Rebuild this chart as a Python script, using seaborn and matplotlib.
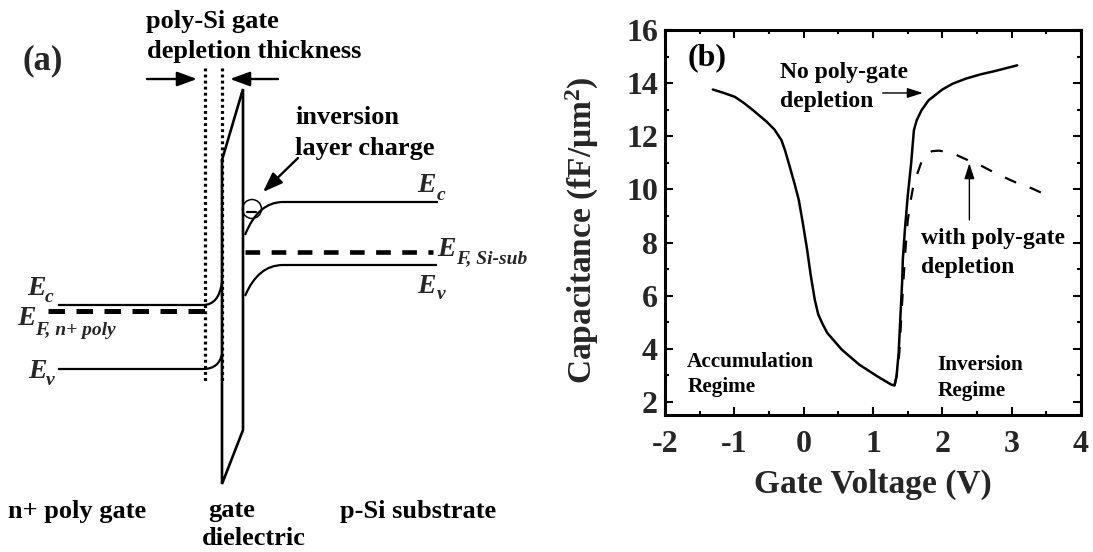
import matplotlib
matplotlib.use("Agg")
import matplotlib.pyplot as plt
import numpy as np
import pandas as pd
import seaborn as sns
from matplotlib.path import Path
from matplotlib.patches import PathPatch, Circle
from matplotlib.ticker import MultipleLocator

# ---------------- C-V data (panel b) ----------------
v_no_depl = [-1.31, -1.15, -0.99, -0.86, -0.73, -0.53, -0.42, -0.32, -0.27, -0.20, -0.13,
             -0.07, -0.01, 0.05, 0.10, 0.16, 0.21, 0.27, 0.34, 0.55, 0.80, 1.06, 1.26,
             1.31, 1.34, 1.37, 1.40, 1.42, 1.43, 1.46, 1.50, 1.55, 1.59, 1.63,
             1.70, 1.80, 2.00, 2.15, 2.34, 2.55, 2.75, 2.90, 3.08]
c_no_depl = [13.76, 13.63, 13.48, 13.25, 12.98, 12.54, 12.25, 11.85, 11.48, 10.85, 10.2,
             9.6, 8.7, 7.73, 6.8, 5.85, 5.3, 4.95, 4.6, 3.97, 3.41, 2.97, 2.66,
             2.62, 2.97, 3.86, 5.47, 6.5, 7.35, 8.48, 9.73, 10.98, 12.23, 12.6,
             12.98, 13.35, 13.76, 13.98, 14.17, 14.33, 14.45, 14.55, 14.67]

v_poly_depl = [1.31, 1.34, 1.38, 1.41, 1.44, 1.47, 1.50, 1.54, 1.58, 1.64, 1.70,
               1.77, 1.85, 1.95, 2.05, 2.2, 2.37, 2.57, 2.73, 2.91, 3.07, 3.29, 3.45]
c_poly_depl = [2.62, 2.97, 3.86, 5.3, 6.6, 7.8, 8.8, 9.54, 10.1, 10.6, 11.04,
               11.3, 11.44, 11.46, 11.42, 11.3, 11.1, 10.88, 10.66, 10.44, 10.25, 10.04, 9.85]

x_ticks = [-2, -1, 0, 1, 2, 3, 4]
y_ticks = [2, 4, 6, 8, 10, 12, 14, 16]

# ---------------- band diagram layout (panel a, canvas units) ----------------
poly_x = [58, 203]              # flat part of n+ poly bands
poly_ec_y, poly_ef_y, poly_ev_y = 305, 311, 369
sub_x = [283, 438]              # flat part of substrate bands
sub_ec_y, sub_ef_y, sub_ev_y = 202, 252, 265
depl_edge_x, ox_left_x, ox_right_x = 205, 222, 243
ox_cb_y = [160, 89]             # dielectric conduction band (left, right)
ox_vb_y = [484, 430]            # dielectric valence band (left, right)
dotted_y = [68, 383]

sns.set_style("ticks")
plt.rcParams["font.family"] = ["Liberation Serif", "DejaVu Serif"]
plt.rcParams["font.weight"] = "bold"
plt.rcParams["axes.unicode_minus"] = False
plt.rcParams["mathtext.fontset"] = "custom"
plt.rcParams["mathtext.rm"] = "Liberation Serif:bold"
plt.rcParams["mathtext.it"] = "Liberation Serif:italic:bold"
plt.rcParams["mathtext.bf"] = "Liberation Serif:bold"

W, H = 1093, 552
fig = plt.figure(figsize=(W / 100, H / 100), dpi=100)
fig.patch.set_facecolor("white")

# ================= panel (a): band diagram =================
axa = fig.add_axes([0, 0, 540 / W, 1])
axa.set_xlim(0, 540)
axa.set_ylim(H, 0)
axa.axis("off")

lw_band = 1.6
M, L, C3 = Path.MOVETO, Path.LINETO, Path.CURVE3

def band(points, codes, lw=lw_band):
    axa.add_patch(PathPatch(Path(points, codes), fill=False, lw=lw,
                            edgecolor="black", capstyle="butt", joinstyle="round"))

# n+ poly gate bands, bending up at the depletion edge
band([(poly_x[0], poly_ec_y), (poly_x[1], poly_ec_y), (219, poly_ec_y), (ox_left_x, 282)],
     [M, L, C3, C3])
band([(poly_x[0], poly_ev_y), (poly_x[1], poly_ev_y), (219, poly_ev_y), (ox_left_x, 354)],
     [M, L, C3, C3])
axa.plot([48, 208], [poly_ef_y, poly_ef_y], color="black", lw=3.6,
         dashes=(3.3, 2.3), solid_capstyle="butt", dash_capstyle="butt")

# substrate bands, bending down at the interface
band([(245, 235), (258, sub_ec_y), (sub_x[0], sub_ec_y), (sub_x[1], sub_ec_y)],
     [M, C3, C3, L])
band([(245, 296), (258, sub_ev_y), (sub_x[0], sub_ev_y), (sub_x[1] - 1, sub_ev_y)],
     [M, C3, C3, L])
axa.plot([245, 433], [sub_ef_y, sub_ef_y], color="black", lw=3.3,
         dashes=(3.2, 2.5), dash_capstyle="butt")

# gate dielectric
axa.plot([ox_left_x, ox_right_x, ox_right_x, ox_left_x, ox_left_x],
         [ox_cb_y[0], ox_cb_y[1], ox_vb_y[1], ox_vb_y[0], ox_cb_y[0]],
         color="black", lw=1.9, solid_joinstyle="miter")

# depletion-thickness markers
for xd in (depl_edge_x, ox_left_x):
    axa.plot([xd, xd], dotted_y, color="black", lw=2.3, dashes=(0.9, 1.0),
             dash_capstyle="butt")

arrow_big = dict(arrowstyle="-|>,head_length=0.6,head_width=0.22", lw=1.7,
                 color="black", mutation_scale=20, shrinkA=0, shrinkB=0)
axa.annotate("", xy=(197, 79), xytext=(147, 79), arrowprops=arrow_big)
axa.annotate("", xy=(230, 79), xytext=(278, 79), arrowprops=arrow_big)
axa.annotate("", xy=(263, 192), xytext=(298, 158), arrowprops=arrow_big)

# inversion electron
axa.add_patch(Circle((252, 209), 9.5, fill=False, lw=1.1, edgecolor="black"))
axa.plot([247, 256], [212, 212], color="black", lw=1.6)

txt = dict(fontsize=19, fontweight="bold", va="baseline", ha="left", color="black")
axa.text(23, 69, "(a)", fontsize=25, fontweight="bold", va="baseline", ha="left")
axa.text(146, 28, "poly-Si gate", **txt)
axa.text(147, 58, "depletion thickness", **txt)
axa.text(295, 124, "inversion", **txt)
axa.text(295, 155, "layer charge", **txt)
axa.text(8, 518, "n+ poly gate", **txt)
axa.text(208, 517, "gate", **txt)
axa.text(202, 545, "dielectric", **txt)
axa.text(340, 518, "p-Si substrate", **txt)

e_main = dict(fontsize=20, fontweight="bold", style="italic", va="baseline", ha="left")
e_sub = dict(fontsize=14, fontweight="bold", style="italic", va="baseline", ha="left")
band_labels = [
    (417, 192, 437, 200, "c"),
    (437, 256, 456, 263, "F, Si-sub"),
    (417, 293, 437, 299, "v"),
    (27, 295, 45, 302, "c"),
    (17, 325, 35, 335, "F, n+ poly"),
    (28, 378, 46, 385, "v"),
]
for xe, ye, xs, ys, sub in band_labels:
    axa.text(xe, ye, "E", **e_main)
    axa.text(xs, ys, sub, **e_sub)

# ================= panel (b): C-V curves =================
left, right, top, bottom = 665, 1081, 30, 414.5
axb = fig.add_axes([left / W, (H - bottom) / H, (right - left) / W, (bottom - top) / H])

df_no = pd.DataFrame({"V": v_no_depl, "C": c_no_depl})
df_pd = pd.DataFrame({"V": v_poly_depl, "C": c_poly_depl})
sns.lineplot(data=df_no, x="V", y="C", ax=axb, color="black", lw=1.8,
             sort=False, estimator=None)
sns.lineplot(data=df_pd, x="V", y="C", ax=axb, color="black", lw=1.6,
             sort=False, estimator=None)
axb.lines[-1].set_dashes((5.5, 6.5))
for ln in axb.lines:
    ln.set_solid_joinstyle("round")

axb.set_xlim(-2, 4)
axb.set_ylim(1.53, 16)
axb.set_xticks(x_ticks)
axb.set_yticks(y_ticks)
axb.xaxis.set_minor_locator(MultipleLocator(0.5))
axb.yaxis.set_minor_locator(MultipleLocator(1))
axb.tick_params(which="both", direction="in", top=True, right=True,
                width=1.5, color="black")
axb.tick_params(which="major", length=5.8, labelsize=23)
axb.tick_params(which="minor", length=2.8)
axb.tick_params(axis="x", which="major", pad=11)
axb.tick_params(axis="y", which="major", pad=5)
for s in axb.spines.values():
    s.set_linewidth(2.2)
    s.set_color("black")

axb.set_xlabel("Gate Voltage (V)", fontsize=24, fontweight="bold", labelpad=7)
axb.set_ylabel("Capacitance (fF/μm$^2$)", fontsize=24, fontweight="bold")
axb.yaxis.set_label_coords(-0.155, 0.48)

ann = dict(fontweight="bold", va="baseline", ha="left", color="black")
axb.text(-1.68, 14.69, "(b)", fontsize=23, **ann)
axb.text(-0.34, 14.18, "No poly-gate", fontsize=17, **ann)
axb.text(-0.34, 13.10, "depletion", fontsize=17, **ann)
axb.text(1.69, 7.95, "with poly-gate", fontsize=17, **ann)
axb.text(1.69, 6.85, "depletion", fontsize=17, **ann)
axb.text(-1.68, 3.32, "Accumulation", fontsize=15.3, **ann)
axb.text(-1.68, 2.37, "Regime", fontsize=15.3, **ann)
axb.text(1.93, 3.22, "Inversion", fontsize=15.3, **ann)
axb.text(1.93, 2.22, "Regime", fontsize=15.3, **ann)

arrow_small = dict(arrowstyle="-|>,head_length=0.5,head_width=0.16", lw=1.0,
                   color="black", mutation_scale=19, shrinkA=0, shrinkB=0)
axb.annotate("", xy=(1.72, 13.63), xytext=(1.14, 13.63), arrowprops=arrow_small)
axb.annotate("", xy=(2.39, 10.99), xytext=(2.39, 8.85), arrowprops=arrow_small)

fig.savefig("out.png", dpi=100, facecolor="white")
